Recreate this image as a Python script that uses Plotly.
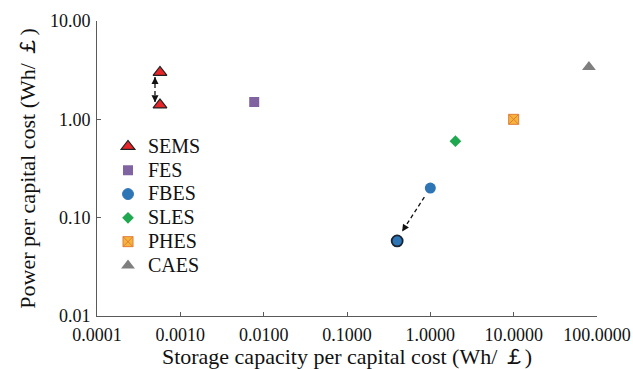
import math
import plotly.graph_objects as go

# ---- data ----
series_names = ["SEMS", "FES", "FBES", "SLES", "PHES", "CAES"]
sems_x = [0.00057, 0.00057]
sems_y = [3.0, 1.4]
fes_x = [0.0077]
fes_y = [1.5]
fbes_x = [1.0, 0.4]
fbes_y = [0.20, 0.058]
sles_x = [2.0]
sles_y = [0.60]
phes_x = [10.0]
phes_y = [1.0]
caes_x = [80.0]
caes_y = [3.4]

x_tickvals = [0.0001, 0.001, 0.01, 0.1, 1, 10, 100]
x_ticktext = ["0.0001", "0.0010", "0.0100", "0.1000", "1.0000", "10.0000", "100.0000"]
y_tickvals = [0.01, 0.1, 1, 10]
y_ticktext = ["0.01", "0.10", "1.00", "10.00"]

FONT = "Liberation Serif, Times New Roman, serif"

W, H = 633, 369
ML, MR, MT, MB = 97, 36, 21, 53
XR = [-4, 2]
YR = [-2, 1]
PX_PER_X = (W - ML - MR) / (XR[1] - XR[0])
PX_PER_Y = (H - MT - MB) / (YR[1] - YR[0])


def lname(s):
    return '<span style="font-size:20px">' + s + '</span>'


fig = go.Figure()

fig.add_trace(go.Scatter(x=sems_x, y=sems_y, mode="markers", name=lname(series_names[0]),
                         marker=dict(symbol="triangle-up", size=12, color="#E8262A",
                                     line=dict(color="#222222", width=1.2)), cliponaxis=False))
fig.add_trace(go.Scatter(x=fes_x, y=fes_y, mode="markers", name=lname(series_names[1]),
                         marker=dict(symbol="square", size=10, color="#8064A2",
                                     line=dict(width=0)), cliponaxis=False))
fig.add_trace(go.Scatter(x=fbes_x, y=fbes_y, mode="markers", name=lname(series_names[2]),
                         marker=dict(symbol="circle", size=11, color="#2E75B6",
                                     line=dict(color=["#2E75B6", "#1a2433"], width=[0, 1.8])),
                         cliponaxis=False))
fig.add_trace(go.Scatter(x=sles_x, y=sles_y, mode="markers", name=lname(series_names[3]),
                         marker=dict(symbol="diamond", size=9, color="#1FA84F",
                                     line=dict(width=0)), cliponaxis=False))
fig.add_trace(go.Scatter(x=phes_x, y=phes_y, mode="markers", name=lname(series_names[4]),
                         marker=dict(symbol="square-x", size=10, color="#F6B53A",
                                     line=dict(color="#E07D3A", width=1)), cliponaxis=False))
fig.add_trace(go.Scatter(x=caes_x, y=caes_y, mode="markers", name=lname(series_names[5]),
                         marker=dict(symbol="triangle-up", size=12, color="#7F7F7F",
                                     line=dict(width=0)), cliponaxis=False))

# ---- dashed arrows derived from data points (log space) ----
def lerp_log(a, b, t):
    return 10 ** (math.log10(a) + t * (math.log10(b) - math.log10(a)))

def add_arrow(x0, y0, x1, y1, double=False):
    fig.add_trace(go.Scatter(x=[x0, x1], y=[y0, y1], mode="lines", showlegend=False,
                             hoverinfo="skip",
                             line=dict(color="#111111", width=1.3, dash="4px,3px")))
    heads = [(x1, y1, x0, y0)]
    if double:
        heads.append((x0, y0, x1, y1))
    for hx, hy, bx, by in heads:
        dxp = (math.log10(bx) - math.log10(hx)) * PX_PER_X
        dyp = -(math.log10(by) - math.log10(hy)) * PX_PER_Y
        L = math.hypot(dxp, dyp)
        k = 7 / L
        fig.add_annotation(x=math.log10(hx), y=math.log10(hy), ax=dxp * k, ay=dyp * k,
                           xref="x", yref="y",
                           showarrow=True, arrowhead=2, arrowsize=1.0, arrowwidth=1.4,
                           arrowcolor="#111111", text="")

sems_ax = sems_x[0] * 10 ** (-0.06)
add_arrow(sems_ax, lerp_log(sems_y[0], sems_y[1], 0.14),
          sems_ax, lerp_log(sems_y[0], sems_y[1], 0.92), double=True)
add_arrow(lerp_log(fbes_x[0], fbes_x[1], 0.18), lerp_log(fbes_y[0], fbes_y[1], 0.17),
          lerp_log(fbes_x[0], fbes_x[1], 0.85), lerp_log(fbes_y[0], fbes_y[1], 0.82))

fig.update_layout(
    width=W, height=H,
    margin=dict(l=ML, r=MR, t=MT, b=MB),
    paper_bgcolor="white", plot_bgcolor="white",
    font=dict(family=FONT, color="#111111"),
    showlegend=True,
    legend=dict(x=0.022, y=0.632, xanchor="left", yanchor="top",
                font=dict(family=FONT, size=16, color="#111111"),
                bgcolor="rgba(0,0,0,0)", tracegroupgap=0, itemwidth=30),
    xaxis=dict(type="log", range=XR, tickvals=x_tickvals, ticktext=x_ticktext,
               automargin=False, ticklabelstandoff=2,
               showgrid=False, zeroline=False, showline=True, linecolor="#5a5a5a",
               linewidth=1, ticks="inside", ticklen=4, tickcolor="#5a5a5a",
               tickfont=dict(family=FONT, size=18, color="#111111"),
               title=dict(text="Storage capacity per capital cost (Wh/ ￡)",
                          font=dict(family=FONT, size=22, color="#111111"), standoff=5)),
    yaxis=dict(type="log", range=YR, tickvals=y_tickvals, ticktext=y_ticktext,
               automargin=False, ticklabelstandoff=2,
               showgrid=False, zeroline=False, showline=True, linecolor="#5a5a5a",
               linewidth=1, ticks="inside", ticklen=4, tickcolor="#5a5a5a",
               tickfont=dict(family=FONT, size=18, color="#111111"),
               title=dict(text="Power per capital cost (Wh/ ￡)",
                          font=dict(family=FONT, size=22, color="#111111"), standoff=8)),
)

fig.write_html("out.html", config={"displayModeBar": False},
               post_script="document.body.style.margin='0';document.body.style.padding='0';")
